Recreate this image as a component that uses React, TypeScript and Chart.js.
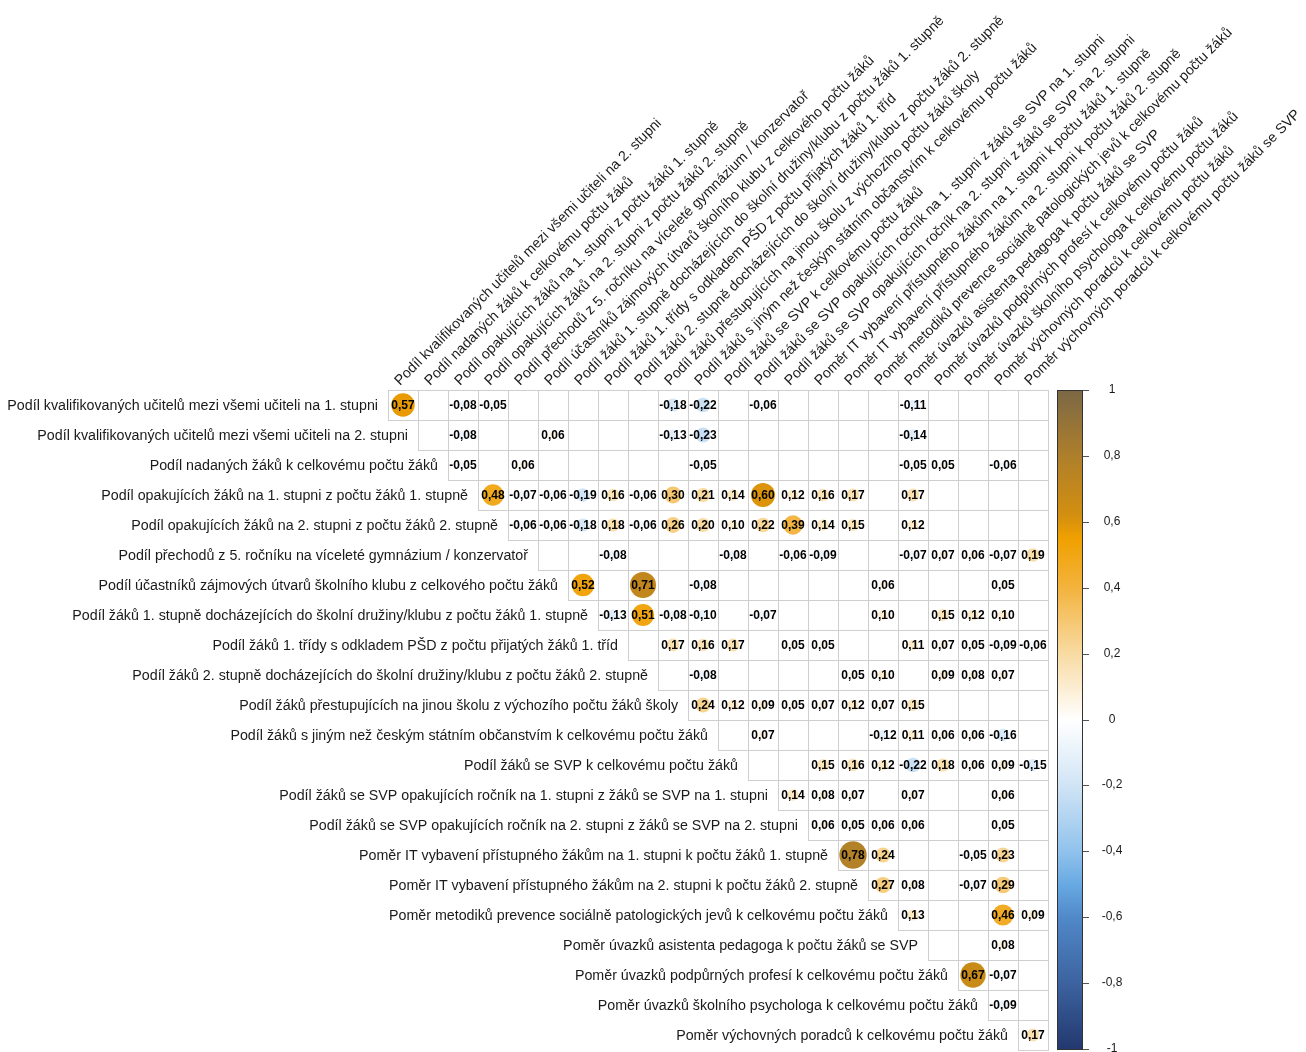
import React, { useEffect, useRef } from "react";
import { Chart, registerables } from "chart.js";

Chart.register(...registerables);

const rowLabels: string[] = [
  "Podíl kvalifikovaných učitelů mezi všemi učiteli na 1. stupni",
  "Podíl kvalifikovaných učitelů mezi všemi učiteli na 2. stupni",
  "Podíl nadaných žáků k celkovému počtu žáků",
  "Podíl opakujících žáků na 1. stupni z počtu žáků 1. stupně",
  "Podíl opakujících žáků na 2. stupni z počtu žáků 2. stupně",
  "Podíl přechodů z 5. ročníku na víceleté gymnázium / konzervatoř",
  "Podíl účastníků zájmových útvarů školního klubu z celkového počtu žáků",
  "Podíl žáků 1. stupně docházejících do školní družiny/klubu z počtu žáků 1. stupně",
  "Podíl žáků 1. třídy s odkladem PŠD z počtu přijatých žáků 1. tříd",
  "Podíl žáků 2. stupně docházejících do školní družiny/klubu z počtu žáků 2. stupně",
  "Podíl žáků přestupujících na jinou školu z výchozího počtu žáků školy",
  "Podíl žáků s jiným než českým státním občanstvím k celkovému počtu žáků",
  "Podíl žáků se SVP k celkovému počtu žáků",
  "Podíl žáků se SVP opakujících ročník na 1. stupni z žáků se SVP na 1. stupni",
  "Podíl žáků se SVP opakujících ročník na 2. stupni z žáků se SVP na 2. stupni",
  "Poměr IT vybavení přístupného žákům na 1. stupni k počtu žáků 1. stupně",
  "Poměr IT vybavení přístupného žákům na 2. stupni k počtu žáků 2. stupně",
  "Poměr metodiků prevence sociálně patologických jevů k celkovému počtu žáků",
  "Poměr úvazků asistenta pedagoga k počtu žáků se SVP",
  "Poměr úvazků podpůrných profesí k celkovému počtu žáků",
  "Poměr úvazků školního psychologa k celkovému počtu žáků",
  "Poměr výchovných poradců k celkovému počtu žáků",
];

const colLabels: string[] = [
  "Podíl kvalifikovaných učitelů mezi všemi učiteli na 2. stupni",
  "Podíl nadaných žáků k celkovému počtu žáků",
  "Podíl opakujících žáků na 1. stupni z počtu žáků 1. stupně",
  "Podíl opakujících žáků na 2. stupni z počtu žáků 2. stupně",
  "Podíl přechodů z 5. ročníku na víceleté gymnázium / konzervatoř",
  "Podíl účastníků zájmových útvarů školního klubu z celkového počtu žáků",
  "Podíl žáků 1. stupně docházejících do školní družiny/klubu z počtu žáků 1. stupně",
  "Podíl žáků 1. třídy s odkladem PŠD z počtu přijatých žáků 1. tříd",
  "Podíl žáků 2. stupně docházejících do školní družiny/klubu z počtu žáků 2. stupně",
  "Podíl žáků přestupujících na jinou školu z výchozího počtu žáků školy",
  "Podíl žáků s jiným než českým státním občanstvím k celkovému počtu žáků",
  "Podíl žáků se SVP k celkovému počtu žáků",
  "Podíl žáků se SVP opakujících ročník na 1. stupni z žáků se SVP na 1. stupni",
  "Podíl žáků se SVP opakujících ročník na 2. stupni z žáků se SVP na 2. stupni",
  "Poměr IT vybavení přístupného žákům na 1. stupni k počtu žáků 1. stupně",
  "Poměr IT vybavení přístupného žákům na 2. stupni k počtu žáků 2. stupně",
  "Poměr metodiků prevence sociálně patologických jevů k celkovému počtu žáků",
  "Poměr úvazků asistenta pedagoga k počtu žáků se SVP",
  "Poměr úvazků podpůrných profesí k celkovému počtu žáků",
  "Poměr úvazků školního psychologa k celkovému počtu žáků",
  "Poměr výchovných poradců k celkovému počtu žáků",
  "Poměr výchovných poradců k celkovému počtu žáků se SVP",
];

const _ = null;
// correlation rows (row i: columns 1..22, blank = not shown)
const correlations: (number | null)[][] = [
  [0.57, _, -0.08, -0.05, _, _, _, _, _, -0.18, -0.22, _, -0.06, _, _, _, _, -0.11, _, _, _, _],
  [_, _, -0.08, _, _, 0.06, _, _, _, -0.13, -0.23, _, _, _, _, _, _, -0.14, _, _, _, _],
  [_, _, -0.05, _, 0.06, _, _, _, _, _, -0.05, _, _, _, _, _, _, -0.05, 0.05, _, -0.06, _],
  [_, _, _, 0.48, -0.07, -0.06, -0.19, 0.16, -0.06, 0.3, 0.21, 0.14, 0.6, 0.12, 0.16, 0.17, _, 0.17, _, _, _, _],
  [_, _, _, _, -0.06, -0.06, -0.18, 0.18, -0.06, 0.26, 0.2, 0.1, 0.22, 0.39, 0.14, 0.15, _, 0.12, _, _, _, _],
  [_, _, _, _, _, _, _, -0.08, _, _, _, -0.08, _, -0.06, -0.09, _, _, -0.07, 0.07, 0.06, -0.07, 0.19],
  [_, _, _, _, _, _, 0.52, _, 0.71, _, -0.08, _, _, _, _, _, 0.06, _, _, _, 0.05, _],
  [_, _, _, _, _, _, _, -0.13, 0.51, -0.08, -0.1, _, -0.07, _, _, _, 0.1, _, 0.15, 0.12, 0.1, _],
  [_, _, _, _, _, _, _, _, _, 0.17, 0.16, 0.17, _, 0.05, 0.05, _, _, 0.11, 0.07, 0.05, -0.09, -0.06],
  [_, _, _, _, _, _, _, _, _, _, -0.08, _, _, _, _, 0.05, 0.1, _, 0.09, 0.08, 0.07, _],
  [_, _, _, _, _, _, _, _, _, _, 0.24, 0.12, 0.09, 0.05, 0.07, 0.12, 0.07, 0.15, _, _, _, _],
  [_, _, _, _, _, _, _, _, _, _, _, _, 0.07, _, _, _, -0.12, 0.11, 0.06, 0.06, -0.16, _],
  [_, _, _, _, _, _, _, _, _, _, _, _, _, _, 0.15, 0.16, 0.12, -0.22, 0.18, 0.06, 0.09, -0.15],
  [_, _, _, _, _, _, _, _, _, _, _, _, _, 0.14, 0.08, 0.07, _, 0.07, _, _, 0.06, _],
  [_, _, _, _, _, _, _, _, _, _, _, _, _, _, 0.06, 0.05, 0.06, 0.06, _, _, 0.05, _],
  [_, _, _, _, _, _, _, _, _, _, _, _, _, _, _, 0.78, 0.24, _, _, -0.05, 0.23, _],
  [_, _, _, _, _, _, _, _, _, _, _, _, _, _, _, _, 0.27, 0.08, _, -0.07, 0.29, _],
  [_, _, _, _, _, _, _, _, _, _, _, _, _, _, _, _, _, 0.13, _, _, 0.46, 0.09],
  [_, _, _, _, _, _, _, _, _, _, _, _, _, _, _, _, _, _, _, _, 0.08, _],
  [_, _, _, _, _, _, _, _, _, _, _, _, _, _, _, _, _, _, _, 0.67, -0.07, _],
  [_, _, _, _, _, _, _, _, _, _, _, _, _, _, _, _, _, _, _, _, -0.09, _],
  [_, _, _, _, _, _, _, _, _, _, _, _, _, _, _, _, _, _, _, _, _, 0.17],
];

const colorbarTicks: number[] = [1, 0.8, 0.6, 0.4, 0.2, 0, -0.2, -0.4, -0.6, -0.8, -1];

const colorStops: [number, string][] = [
  [-1, "#22386e"],
  [-0.8, "#3c629f"],
  [-0.6, "#5088c8"],
  [-0.5, "#67a9e2"],
  [-0.4, "#90c2ec"],
  [-0.2, "#d0e4f5"],
  [0, "#ffffff"],
  [0.2, "#f8dba3"],
  [0.4, "#f3b33e"],
  [0.55, "#f0a000"],
  [0.62, "#d38f10"],
  [0.8, "#ae7f2b"],
  [1, "#7b6845"],
];

function hexToRgb(h: string): number[] {
  const n = parseInt(h.slice(1), 16);
  return [(n >> 16) & 255, (n >> 8) & 255, n & 255];
}

function colorFor(v: number): string {
  for (let i = 0; i < colorStops.length - 1; i++) {
    const [a, ca] = colorStops[i];
    const [b, cb] = colorStops[i + 1];
    if (v >= a && v <= b) {
      const t = (v - a) / (b - a);
      const A = hexToRgb(ca);
      const B = hexToRgb(cb);
      const c = A.map((x, k) => Math.round(x + (B[k] - x) * t));
      return `rgb(${c[0]},${c[1]},${c[2]})`;
    }
  }
  return "#ffffff";
}

function fmt(v: number): string {
  return v.toFixed(2).replace(".", ",");
}

const FONT = '"Liberation Sans", Arial, Helvetica, sans-serif';

export default function App() {
  const ref = useRef<HTMLCanvasElement | null>(null);

  useEffect(() => {
    document.body.style.margin = "0";
    document.body.style.overflow = "hidden";
    const canvas = ref.current;
    if (!canvas) return;

    const points: { x: number; y: number; v: number }[] = [];
    correlations.forEach((row, ri) => {
      row.forEach((v, ci) => {
        if (v !== null) points.push({ x: ci + 1, y: ri + 1, v });
      });
    });

    const corrPlugin = {
      id: "corrPlugin",
      beforeDatasetsDraw(chart: any) {
        const { ctx, scales } = chart;
        const xs = scales.x;
        const ys = scales.y;
        const n = rowLabels.length;
        ctx.save();
        ctx.strokeStyle = "#cfcfcf";
        ctx.lineWidth = 1;
        for (let r = 1; r <= n; r++) {
          for (let c = r; c <= colLabels.length; c++) {
            const x0 = Math.round(xs.getPixelForValue(c - 0.5));
            const x1 = Math.round(xs.getPixelForValue(c + 0.5));
            const y0 = Math.round(ys.getPixelForValue(r - 0.5));
            const y1 = Math.round(ys.getPixelForValue(r + 0.5));
            ctx.fillStyle = "#ffffff";
            ctx.fillRect(x0, y0, x1 - x0, y1 - y0);
            ctx.strokeRect(x0 + 0.5, y0 + 0.5, x1 - x0, y1 - y0);
          }
        }
        ctx.restore();
      },
      afterDatasetsDraw(chart: any) {
        const { ctx, scales } = chart;
        const xs = scales.x;
        const ys = scales.y;
        ctx.save();
        // values
        ctx.fillStyle = "#000000";
        ctx.font = `bold 12px ${FONT}`;
        ctx.textAlign = "center";
        ctx.textBaseline = "middle";
        points.forEach((p) => {
          ctx.fillText(fmt(p.v), xs.getPixelForValue(p.x), ys.getPixelForValue(p.y) + 1);
        });
        // row labels
        ctx.font = `14.25px ${FONT}`;
        ctx.fillStyle = "#1a1a1a";
        ctx.textAlign = "right";
        rowLabels.forEach((lab, i) => {
          const x = xs.getPixelForValue(i + 1 - 0.5) - 10;
          ctx.fillText(lab, x, ys.getPixelForValue(i + 1) + 1);
        });
        // column labels
        ctx.textAlign = "left";
        ctx.textBaseline = "alphabetic";
        const topY = ys.getPixelForValue(0.5);
        colLabels.forEach((lab, i) => {
          const x = xs.getPixelForValue(i + 1) - 3;
          ctx.save();
          ctx.translate(x, topY - 4);
          ctx.rotate(-Math.PI / 4);
          ctx.fillText(lab, 0, 0);
          ctx.restore();
        });
        // colorbar
        const cbX = 1057;
        const cbW = 26;
        const cbTop = ys.getPixelForValue(0.5);
        const cbBot = ys.getPixelForValue(22.5);
        const grad = ctx.createLinearGradient(0, cbTop, 0, cbBot);
        colorStops.forEach(([v, c]) => grad.addColorStop((1 - v) / 2, c));
        ctx.fillStyle = grad;
        ctx.fillRect(cbX, cbTop, cbW, cbBot - cbTop);
        ctx.strokeStyle = "#333333";
        ctx.lineWidth = 1;
        ctx.strokeRect(cbX + 0.5, cbTop + 0.5, cbW - 1, cbBot - cbTop - 1);
        ctx.font = `12px ${FONT}`;
        ctx.fillStyle = "#1a1a1a";
        ctx.textAlign = "center";
        ctx.textBaseline = "middle";
        colorbarTicks.forEach((t) => {
          const y = Math.round(cbTop + ((1 - t) / 2) * (cbBot - cbTop - 1)) + 0.5;
          ctx.strokeStyle = "#555555";
          ctx.beginPath();
          ctx.moveTo(cbX + cbW, y);
          ctx.lineTo(cbX + cbW + 6, y);
          ctx.stroke();
          ctx.fillText(String(t).replace(".", ","), 1112, y - 1);
        });
        ctx.restore();
      },
    };

    const chart = new Chart(canvas, {
      type: "scatter",
      data: {
        datasets: [
          {
            data: points as any,
            pointRadius: (c: any) => {
              const p = c.raw;
              return p ? Math.sqrt(Math.abs(p.v)) * 15.5 : 0;
            },
            pointBackgroundColor: (c: any) => (c.raw ? colorFor(c.raw.v) : "#fff"),
            pointBorderWidth: 0,
            pointBorderColor: "rgba(0,0,0,0)",
            pointHoverRadius: 0,
          } as any,
        ],
      },
      options: {
        animation: false,
        responsive: false,
        devicePixelRatio: 1,
        events: [],
        layout: { autoPadding: false, padding: { left: 388, top: 390, right: 258, bottom: 2 } },
        plugins: { legend: { display: false }, tooltip: { enabled: false } },
        scales: {
          x: { type: "linear", min: 0.5, max: 22.5, display: false },
          y: { type: "linear", min: 0.5, max: 22.5, reverse: true, display: false },
        },
      },
      plugins: [corrPlugin],
    });
    return () => chart.destroy();
  }, []);

  return <canvas ref={ref} width={1306} height={1052} style={{ display: "block" }} />;
}
